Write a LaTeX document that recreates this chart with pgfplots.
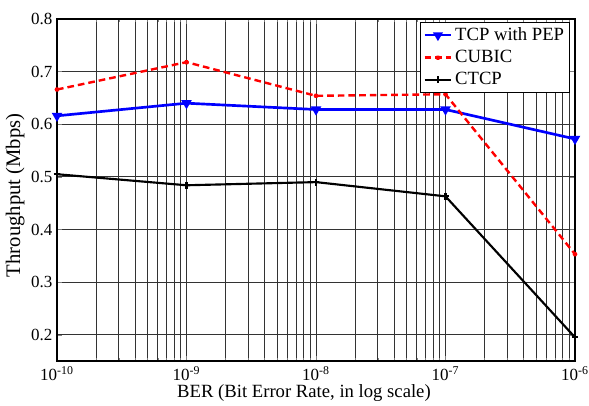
\documentclass[border=0pt]{standalone}
\usepackage{fontspec}
\setmainfont{Liberation Serif}
\usepackage{pgfplots}
\pgfplotsset{compat=1.18}
\newcommand\tkf{\fontsize{12.75}{14}\selectfont}
\newcommand\xlf{\fontsize{14}{16}\selectfont}
\newcommand\ylf{\fontsize{15.5}{17}\selectfont}
\newcommand\lgf{\fontsize{14}{15}\selectfont}
\begin{document}
\begin{tikzpicture}
\begin{axis}[
  at={(0,0)}, anchor=south west,
  scale only axis,
  width=388.5pt, height=256.5pt,
  xmode=log, xmin=1e-10, xmax=1e-6,
  ymin=0.15, ymax=0.8,
  xtick={1e-10,1e-9,1e-8,1e-7,1e-6},
  xticklabels={10\textsuperscript{-10},10\textsuperscript{-9},10\textsuperscript{-8},10\textsuperscript{-7},10\textsuperscript{-6}},
  ytick={0.2,0.3,0.4,0.5,0.6,0.7,0.8},
  yticklabel style={/pgf/number format/.cd,fixed,precision=1,fixed zerofill,assume math mode=true},
  tick label style={font=\tkf},
  xticklabel style={yshift=-1pt},
  xlabel={BER (Bit Error Rate, in log scale)},
  ylabel={Throughput (Mbps)},
  xlabel style={font=\xlf, yshift=4pt, xshift=-9pt},
  ylabel style={font=\ylf, yshift=-2pt, xshift=-4pt},
  grid=both,
  major grid style={black!80, line width=0.55pt},
  minor grid style={black!80, line width=0.55pt},
  tick align=inside,
  major tick length=4pt,
  minor tick length=2.5pt,
  axis line style={line width=0.8pt},
  legend style={at={(0.990,0.991)}, anchor=north east, font=\lgf, draw=black, line width=0.6pt,
    inner sep=2pt, row sep=1.8pt, legend cell align=left},
  legend image code/.code={\draw[mark repeat=2,mark phase=2,#1] plot coordinates {(0pt,0pt)(10pt,0pt)(20pt,0pt)};},
  legend image post style={line width=1.8pt},
]
\addplot[blue, line width=2pt, mark=triangle*, mark options={rotate=180, solid, scale=1.3}]
  coordinates {(1e-10,0.616) (1e-9,0.640) (1e-8,0.628) (1e-7,0.628) (1e-6,0.572)};
\addlegendentry{TCP with PEP}
\addplot[red, line width=1.8pt, dash pattern=on 5pt off 3pt, mark=asterisk, mark options={solid, scale=0.8}]
  coordinates {(1e-10,0.666) (1e-9,0.718) (1e-8,0.654) (1e-7,0.657) (1e-6,0.353)};
\addlegendentry{CUBIC}
\addplot[black, line width=1.6pt, mark=+, mark options={solid, scale=1.3, line width=1.6pt}]
  coordinates {(1e-10,0.505) (1e-9,0.484) (1e-8,0.490) (1e-7,0.463) (1e-6,0.195)};
\addlegendentry{CTCP}
\end{axis}
\pgfresetboundingbox
\path[use as bounding box] (-42.75pt,-33pt) rectangle (399pt,270.75pt);
\end{tikzpicture}
\end{document}
